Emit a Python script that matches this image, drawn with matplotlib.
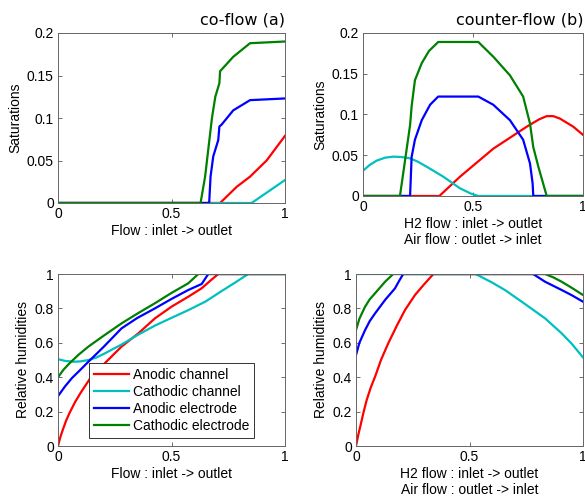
import numpy as np
import matplotlib
matplotlib.use("Agg")
from matplotlib import pyplot as plt

# series names / colours (matlab style)
labels = ["Anodic channel", "Cathodic channel", "Anodic electrode", "Cathodic electrode"]
colors = ["#ff0000", "#00bfbf", "#0000ff", "#008000"]

# co-flow (a) : saturations
co_sat_an_ch_x = [0, 0.714, 0.787, 0.846, 0.919, 1.0]
co_sat_an_ch_y = [0, 0, 0.019, 0.031, 0.05, 0.079]
co_sat_ca_ch_x = [0, 0.853, 1.0]
co_sat_ca_ch_y = [0, 0, 0.027]
co_sat_an_el_x = [0, 0.666, 0.672, 0.684, 0.706, 0.711, 0.72, 0.772, 0.846, 1.0]
co_sat_an_el_y = [0, 0, 0.031, 0.055, 0.074, 0.09, 0.092, 0.109, 0.121, 0.123]
co_sat_ca_el_x = [0, 0.628, 0.648, 0.678, 0.693, 0.711, 0.714, 0.772, 0.846, 1.0]
co_sat_ca_el_y = [0, 0, 0.031, 0.0996, 0.125, 0.141, 0.155, 0.172, 0.188, 0.19]

# counter-flow (b) : saturations
cf_sat_an_ch_x = [0, 0.347, 0.441, 0.592, 0.744, 0.80, 0.835, 0.865, 0.895, 0.956, 1.0]
cf_sat_an_ch_y = [0, 0, 0.0237, 0.058, 0.085, 0.094, 0.098, 0.098, 0.095, 0.085, 0.075]
cf_sat_ca_ch_x = [0, 0.03, 0.062, 0.1, 0.138, 0.175, 0.214, 0.25, 0.289, 0.365, 0.441,
                  0.49, 0.524, 1.0]
cf_sat_ca_ch_y = [0.031, 0.038, 0.0434, 0.047, 0.0483, 0.0478, 0.0462, 0.042, 0.036,
                  0.0237, 0.0094, 0.003, 0, 0]
cf_sat_an_el_x = [0, 0.214, 0.221, 0.236, 0.267, 0.305, 0.342, 0.524, 0.592, 0.668,
                  0.728, 0.759, 0.771, 0.774, 1.0]
cf_sat_an_el_y = [0, 0, 0.048, 0.069, 0.093, 0.112, 0.122, 0.122, 0.112, 0.093,
                  0.069, 0.04, 0.0155, 0, 0]
cf_sat_ca_el_x = [0, 0.168, 0.214, 0.221, 0.236, 0.267, 0.30, 0.342, 0.524, 0.592,
                  0.668, 0.728, 0.759, 0.774, 0.797, 0.835, 1.0]
cf_sat_ca_el_y = [0, 0, 0.087, 0.11, 0.142, 0.163, 0.178, 0.189, 0.189, 0.171,
                  0.148, 0.122, 0.089, 0.06, 0.036, 0, 0]

# co-flow (a) : relative humidities
co_rh_an_ch_x = [0, 0.01, 0.02, 0.035, 0.05, 0.075, 0.1, 0.14, 0.19, 0.28, 0.354,
                 0.427, 0.5, 0.574, 0.633, 0.67, 0.706, 1.0]
co_rh_an_ch_y = [0, 0.05, 0.09, 0.145, 0.19, 0.255, 0.31, 0.39, 0.46, 0.578, 0.655,
                 0.742, 0.81, 0.868, 0.917, 0.96, 1.0, 1.0]
co_rh_ca_ch_x = [0, 0.03, 0.07, 0.1, 0.134, 0.17, 0.207, 0.28, 0.35, 0.427, 0.5,
                 0.574, 0.65, 0.72, 0.78, 0.838, 1.0]
co_rh_ca_ch_y = [0.505, 0.495, 0.49, 0.492, 0.50, 0.515, 0.539, 0.59, 0.645, 0.70,
                 0.745, 0.79, 0.84, 0.9, 0.95, 1.0, 1.0]
co_rh_an_el_x = [0, 0.03, 0.06, 0.1, 0.134, 0.2, 0.28, 0.35, 0.427, 0.5, 0.574, 0.633,
                 0.662, 1.0]
co_rh_an_el_y = [0.29, 0.345, 0.393, 0.445, 0.49, 0.575, 0.684, 0.745, 0.80, 0.855,
                 0.907, 0.942, 1.0, 1.0]
co_rh_ca_el_x = [0, 0.025, 0.05, 0.09, 0.134, 0.2, 0.28, 0.35, 0.427, 0.5, 0.574,
                 0.618, 1.0]
co_rh_ca_el_y = [0.40, 0.445, 0.48, 0.53, 0.578, 0.64, 0.713, 0.77, 0.83, 0.89, 0.946,
                 1.0, 1.0]

# counter-flow (b) : relative humidities
cf_rh_an_ch_x = [0, 0.01, 0.02, 0.033, 0.047, 0.065, 0.084, 0.11, 0.142, 0.18, 0.216,
                 0.26, 0.30, 0.341, 1.0]
cf_rh_an_ch_y = [0, 0.065, 0.12, 0.195, 0.267, 0.34, 0.403, 0.5, 0.597, 0.7, 0.791,
                 0.878, 0.94, 1.0, 1.0]
cf_rh_ca_ch_x = [0, 0.527, 0.6, 0.656, 0.73, 0.833, 0.906, 0.95, 1.0]
cf_rh_ca_ch_y = [1.0, 1.0, 0.95, 0.907, 0.839, 0.742, 0.655, 0.595, 0.515]
cf_rh_an_el_x = [0, 0.015, 0.04, 0.06, 0.084, 0.128, 0.172, 0.19, 0.208, 0.78, 0.833,
                 0.906, 0.95, 1.0]
cf_rh_an_el_y = [0.529, 0.6, 0.674, 0.725, 0.771, 0.849, 0.917, 0.96, 1.0, 1.0, 0.955,
                 0.907, 0.877, 0.839]
cf_rh_ca_el_x = [0, 0.015, 0.04, 0.06, 0.084, 0.128, 0.164, 0.833, 0.87, 0.906, 0.95,
                 1.0]
cf_rh_ca_el_y = [0.674, 0.74, 0.81, 0.852, 0.888, 0.955, 1.0, 1.0, 0.98, 0.955, 0.92,
                 0.878]

x_ticks = [0, 0.5, 1]
x_ticklabels = ["0", "0.5", "1"]
sat_ticks = [0, 0.05, 0.1, 0.15, 0.2]
sat_ticklabels = ["0", "0.05", "0.1", "0.15", "0.2"]
rh_ticks = [0, 0.2, 0.4, 0.6, 0.8, 1]
rh_ticklabels = ["0", "0.2", "0.4", "0.6", "0.8", "1"]

plt.rcParams['font.family'] = ['Liberation Sans', 'DejaVu Sans']
plt.rcParams['font.size'] = 10

fig = plt.figure(figsize=(5.85, 4.97), dpi=100)

ax_tl = fig.add_axes([58/585, 1-203/497, 227/585, 170/497])
ax_tr = fig.add_axes([363/585, 1-196/497, 220/585, 163/497])
ax_bl = fig.add_axes([58/585, 1-446/497, 227/585, 172/497])
ax_br = fig.add_axes([356/585, 1-446/497, 227/585, 172/497])

def draw(ax, series):
    for (xs, ys), c, lab in zip(series, colors, labels):
        ax.plot(xs, ys, color=c, lw=1.6, label=lab)

def style(ax, yt, ytl, ylim, ylab, xlab):
    ax.set_xlim(0, 1)
    ax.set_ylim(*ylim)
    ax.set_xticks(x_ticks)
    ax.set_xticklabels(x_ticklabels)
    ax.set_yticks(yt)
    ax.set_yticklabels(ytl)
    ax.tick_params(direction='in', length=3, width=0.6, color='#555555',
                   top=True, right=True, labelsize=10, pad=3)
    for s in ax.spines.values():
        s.set_color('#666666')
        s.set_linewidth(0.7)
    ax.set_ylabel(ylab, fontsize=10, labelpad=3)
    ax.set_xlabel(xlab, fontsize=10, labelpad=2)

draw(ax_tl, [(co_sat_an_ch_x, co_sat_an_ch_y), (co_sat_ca_ch_x, co_sat_ca_ch_y),
             (co_sat_an_el_x, co_sat_an_el_y), (co_sat_ca_el_x, co_sat_ca_el_y)])
draw(ax_tr, [(cf_sat_an_ch_x, cf_sat_an_ch_y), (cf_sat_ca_ch_x, cf_sat_ca_ch_y),
             (cf_sat_an_el_x, cf_sat_an_el_y), (cf_sat_ca_el_x, cf_sat_ca_el_y)])
draw(ax_bl, [(co_rh_an_ch_x, co_rh_an_ch_y), (co_rh_ca_ch_x, co_rh_ca_ch_y),
             (co_rh_an_el_x, co_rh_an_el_y), (co_rh_ca_el_x, co_rh_ca_el_y)])
draw(ax_br, [(cf_rh_an_ch_x, cf_rh_an_ch_y), (cf_rh_ca_ch_x, cf_rh_ca_ch_y),
             (cf_rh_an_el_x, cf_rh_an_el_y), (cf_rh_ca_el_x, cf_rh_ca_el_y)])

counter_xlab = "H2 flow : inlet -> outlet\nAir flow : outlet -> inlet"
style(ax_tl, sat_ticks, sat_ticklabels, (0, 0.2), "Saturations", "Flow : inlet -> outlet")
style(ax_tr, sat_ticks, sat_ticklabels, (0, 0.2), "Saturations", counter_xlab)
style(ax_bl, rh_ticks, rh_ticklabels, (0, 1), "Relative humidities", "Flow : inlet -> outlet")
style(ax_br, rh_ticks, rh_ticklabels, (0, 1), "Relative humidities", counter_xlab)

ax_tl.set_title("co-flow (a)", loc='right', fontsize=11.5, family='DejaVu Sans', pad=6)
ax_tr.set_title("counter-flow (b)", loc='right', fontsize=11.5, family='DejaVu Sans', pad=6)

leg = ax_bl.legend(loc='lower center', bbox_to_anchor=(0.5, 0.047), borderaxespad=0,
                   fontsize=10, handlelength=2.5, handletextpad=0.3, borderpad=0.35,
                   labelspacing=0.22, fancybox=False, framealpha=1, edgecolor='#333333')
leg.get_frame().set_linewidth(0.7)

fig.savefig("out.png", dpi=100)
